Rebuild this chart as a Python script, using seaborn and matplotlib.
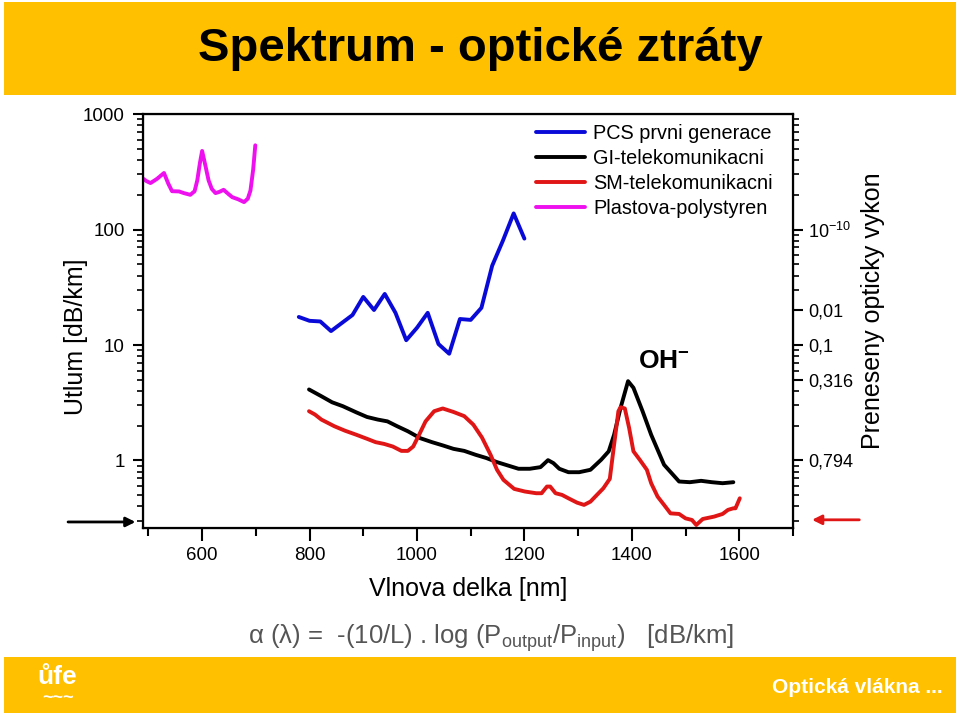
#!/usr/bin/env python3
"""
Spektrum - opticke ztraty: utlum vlaken podle vlnove delky (log osa) + preneseny vykon vpravo.
"""
import pandas as pd
import seaborn as sns
import matplotlib.pyplot as plt
from matplotlib.patches import Rectangle
from matplotlib.ticker import MultipleLocator, LogLocator, NullFormatter

# data
pcs_nm = [780, 800, 820, 840, 860, 880, 900, 920, 940, 960, 980, 1000, 1020, 1040,
          1060, 1080, 1100, 1120, 1140, 1160, 1180, 1200]
pcs_db = [17.5, 16.2, 16.0, 13.2, 15.5, 18.2, 26.1, 20.1, 27.7, 19.0, 11.0, 14.1, 19.0, 10.2,
          8.4, 16.8, 16.5, 21.0, 48.6, 80.2, 138, 83.5]

gi_nm = [799, 822, 842, 862, 887, 907, 927, 945, 963, 983, 1006, 1028, 1048, 1068, 1088,
         1109, 1129, 1149, 1169, 1189, 1210, 1230, 1244, 1254, 1265, 1282, 1302, 1323, 1343,
         1357, 1367, 1379, 1393, 1403, 1420, 1436, 1460, 1488, 1508, 1529, 1549, 1569, 1589]
gi_db = [4.12, 3.60, 3.19, 2.95, 2.61, 2.38, 2.26, 2.18, 1.98, 1.79, 1.56, 1.44, 1.35, 1.26, 1.21,
         1.12, 1.05, 0.967, 0.905, 0.847, 0.847, 0.875, 1.006, 0.948, 0.847, 0.791, 0.791, 0.830, 1.015,
         1.20, 1.67, 2.85, 4.86, 4.26, 2.67, 1.67, 0.918, 0.657, 0.648, 0.666, 0.648, 0.635, 0.648]

sm_nm = [799, 810, 822, 846, 866, 887, 907, 923, 939, 955, 971, 983, 993, 1004, 1016, 1032,
         1048, 1068, 1088, 1105, 1121, 1137, 1149, 1161, 1181, 1201, 1222, 1232, 1242, 1248,
         1258, 1270, 1282, 1298, 1311, 1323, 1335, 1347, 1359, 1367, 1375, 1379, 1387, 1395,
         1403, 1415, 1428, 1436, 1448, 1460, 1472, 1488, 1500, 1512, 1520, 1532, 1553, 1569,
         1579, 1589, 1593, 1601]
sm_db = [2.67, 2.50, 2.26, 1.98, 1.81, 1.67, 1.54, 1.44, 1.39, 1.32, 1.21, 1.21, 1.32, 1.67, 2.18, 2.67,
         2.82, 2.63, 2.42, 2.04, 1.58, 1.12, 0.830, 0.679, 0.567, 0.538, 0.520, 0.520, 0.594, 0.594,
         0.520, 0.503, 0.470, 0.431, 0.412, 0.440, 0.503, 0.574, 0.693, 1.37, 2.67, 2.89, 2.82, 1.91,
         1.20, 1.01, 0.830, 0.635, 0.486, 0.412, 0.348, 0.344, 0.315, 0.305, 0.276, 0.311, 0.326, 0.344,
         0.373, 0.385, 0.385, 0.470]

pol_nm = [490, 497, 504, 516, 529, 537, 544, 557, 566, 578, 586, 591, 596, 600, 606, 612,
          618, 625, 632, 640, 648, 656, 667, 678, 685, 690, 695, 699]
pol_db = [276, 262, 253, 275, 309, 250, 215, 214, 207, 200, 215, 267, 380, 480, 360, 267,
          225, 207, 212, 221, 205, 191, 183, 173, 185, 218, 330, 537]

labels = ["PCS prvni generace", "GI-telekomunikacni", "SM-telekomunikacni", "Plastova-polystyren"]
colors = ["#0a0ad8", "#000000", "#e01515", "#ee10ee"]

right_ticks = [1, 5, 10, 20, 100]
right_labels = ["0,794", "0,316", "0,1", "0,01", "10$^{-10}$"]

frames = []
for lab, xs, ys in zip(labels, [pcs_nm, gi_nm, sm_nm, pol_nm], [pcs_db, gi_db, sm_db, pol_db]):
    frames.append(pd.DataFrame({"nm": xs, "db": ys, "vlakno": lab}))
df = pd.concat(frames, ignore_index=True)

sns.set_style("ticks")
plt.rcParams['font.family'] = ['Liberation Sans', 'DejaVu Sans']
plt.rcParams['mathtext.default'] = 'regular'
for k in ['text.color', 'axes.labelcolor', 'xtick.color', 'ytick.color', 'axes.edgecolor']:
    plt.rcParams[k] = 'black'

fig = plt.figure(figsize=(9.6, 7.16), dpi=100)
fig.patches.append(Rectangle((0.004, 0.868), 0.992, 0.129, transform=fig.transFigure,
                             facecolor="#FFC000", edgecolor="none", zorder=0))
fig.patches.append(Rectangle((0.004, 0.004), 0.992, 0.078, transform=fig.transFigure,
                             facecolor="#FFC000", edgecolor="none", zorder=0))
fig.text(0.5, 0.932, "Spektrum - optické ztráty", ha="center", va="center",
         fontsize=34, fontweight="bold")
fig.text(0.893, 0.040, "Optická vlákna ...", ha="center", va="center",
         fontsize=15, fontweight="bold", color="white")
fig.text(0.060, 0.054, "ůfe", ha="center", va="center", fontsize=19,
         fontweight="bold", color="white")
fig.text(0.060, 0.024, "~~~", ha="center", va="center", fontsize=13,
         fontweight="bold", color="white")

ax = fig.add_axes([0.149, 0.2626, 0.677, 0.578])
sns.lineplot(data=df, x="nm", y="db", hue="vlakno", palette=dict(zip(labels, colors)),
             estimator=None, sort=False, linewidth=2.8, ax=ax, legend=False)
ax.set_yscale("log")
ax.set_xlim(490, 1700)
ax.set_ylim(0.26, 1000)
for ln in ax.get_lines():
    ln.set_solid_joinstyle("round")
    ln.set_solid_capstyle("round")

ax.xaxis.set_major_locator(MultipleLocator(200))
ax.xaxis.set_minor_locator(MultipleLocator(100))
ax.set_yticks([1, 10, 100, 1000])
ax.set_yticklabels(["1", "10", "100", "1000"])
ax.yaxis.set_minor_locator(LogLocator(base=10, subs=range(2, 10)))
ax.yaxis.set_minor_formatter(NullFormatter())
ax.tick_params(axis="x", which="major", direction="out", length=9, width=1.5, pad=5, labelsize=13.5)
ax.tick_params(axis="x", which="minor", direction="out", length=6, width=1.5)
ax.tick_params(axis="y", which="major", direction="out", length=7, width=1.5, pad=6, labelsize=13.5)
ax.tick_params(axis="y", which="minor", direction="out", length=4, width=1.2)
for sp in ax.spines.values():
    sp.set_visible(True)
    sp.set_linewidth(1.6)
ax.set_xlabel("Vlnova delka [nm]", fontsize=18, labelpad=9)
ax.set_ylabel("Utlum [dB/km]", fontsize=18)
ax.yaxis.set_label_coords(-0.085, 0.461)

ax2 = ax.twinx()
ax2.set_yscale("log")
ax2.set_ylim(ax.get_ylim())
ax2.set_yticks(right_ticks)
ax2.set_yticklabels(right_labels)
ax2.yaxis.set_minor_locator(LogLocator(base=10, subs=range(2, 10)))
ax2.yaxis.set_minor_formatter(NullFormatter())
ax2.tick_params(axis="y", which="major", direction="out", length=7, width=1.5, pad=4, labelsize=13)
ax2.tick_params(axis="y", which="minor", direction="out", length=4, width=1.2)
ax2.set_ylabel("Preneseny opticky vykon", fontsize=18)
ax2.yaxis.set_label_coords(1.104, 0.524)

handles = [plt.Line2D([], [], color=c, linewidth=2.8) for c in colors]
ax.legend(handles, labels, loc="upper left", bbox_to_anchor=(0.586, 1.005), frameon=False,
          fontsize=14.3, handlelength=2.5, handletextpad=0.4, labelspacing=0.3, borderaxespad=0.2)

ax.text(0.802, 0.404, "OH$^{-}$", transform=ax.transAxes, ha="center", va="center",
        fontsize=19, fontweight="bold")

# sipky mimo graf
ax.annotate("", xy=(0.144, 0.271), xytext=(0.068, 0.271), xycoords="figure fraction",
            arrowprops=dict(arrowstyle="-|>", color="black", lw=2, mutation_scale=14))
ax.annotate("", xy=(0.843, 0.274), xytext=(0.898, 0.274), xycoords="figure fraction",
            arrowprops=dict(arrowstyle="-|>", color="#e01515", lw=2, mutation_scale=14))

fig.text(0.512, 0.109, "α (λ) =  -(10/L) . log (P$_{output}$/P$_{input}$)   [dB/km]",
         ha="center", va="center", fontsize=18.5, color="#555555")

plt.savefig("out.png", dpi=100)
plt.close()
